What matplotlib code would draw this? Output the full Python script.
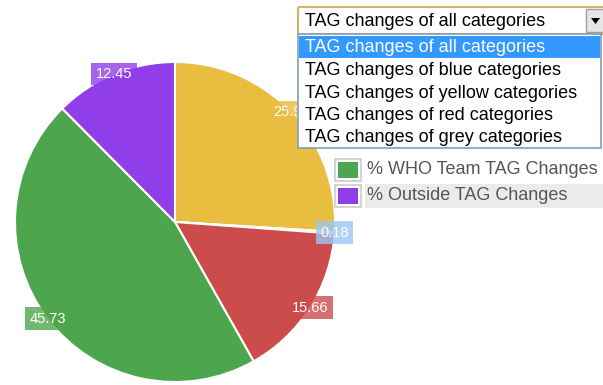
import matplotlib
matplotlib.use("Agg")
import matplotlib.pyplot as plt
from matplotlib.patches import Rectangle, FancyBboxPatch, Polygon
import numpy as np

plt.rcParams['font.family'] = ['Liberation Sans', 'DejaVu Sans']

# Slice values (percent), clockwise from 12 o'clock
values = [25.98, 0.18, 15.66, 45.73, 12.45]
value_labels = ["25.98", "0.18", "15.66", "45.73", "12.45"]
colors = ["#e9bd40", "#9cc6f3", "#cc4b4b", "#4da64d", "#913de9"]

# Visible legend entries
legend_names = ["% WHO Team TAG Changes", "% Outside TAG Changes"]
legend_colors = ["#4da64d", "#913de9"]

# Dropdown menu options
options = ["TAG changes of all categories",
           "TAG changes of blue categories",
           "TAG changes of yellow categories",
           "TAG changes of red categories",
           "TAG changes of grey categories"]

W, H = 603, 385
fig = plt.figure(figsize=(W / 100, H / 100), dpi=100)
ax = fig.add_axes([0, 0, 1, 1])
ax.set_xlim(0, W)
ax.set_ylim(0, H)
ax.set_aspect('equal')
ax.axis('off')


def Y(y):
    return H - y


cx, cy, R = 175, 222, 160
wedges, _ = ax.pie(values, colors=colors, startangle=90, counterclock=False,
                   center=(cx, Y(cy)), radius=R, frame=True,
                   wedgeprops=dict(edgecolor='white', linewidth=1.5))
ax.set_xlim(0, W)
ax.set_ylim(0, H)
ax.axis('off')

# value labels on the rim of each slice
for w, lab, col in zip(wedges, value_labels, colors):
    mid = np.deg2rad((w.theta1 + w.theta2) / 2)
    x = cx + R * np.cos(mid)
    y = Y(cy) + R * np.sin(mid)
    ax.text(x, y, lab, ha='center', va='center', color='white', fontsize=10.5,
            zorder=5,
            bbox=dict(boxstyle='square,pad=0.3', fc=col, ec='none', alpha=0.8))

# legend
leg_y = [170, 196]
ax.add_patch(Rectangle((365, Y(208)), 240, 24, fc='#ebebeb', ec='none', zorder=3))
for ly, name, col in zip(leg_y, legend_names, legend_colors):
    ax.add_patch(Rectangle((335, Y(ly + 11)), 26, 22, fc='white', ec='#cccccc',
                           lw=1.2, zorder=4))
    ax.add_patch(Rectangle((338, Y(ly + 8)), 20, 16, fc=col, ec='none', zorder=4))
    ax.text(367, Y(ly), name, ha='left', va='center', fontsize=13,
            color='#555555', zorder=4)

# closed select box
ax.add_patch(FancyBboxPatch((298, Y(34)), 310, 27,
                            boxstyle='round,pad=0,rounding_size=2',
                            fc='white', ec='#d6b06a', lw=1.5, zorder=10))
ax.text(305, Y(21), options[0], ha='left', va='center', fontsize=13,
        color='black', zorder=11)
ax.add_patch(Rectangle((586, Y(32)), 20, 23, fc='#e6e6e6', ec='#a0a0a0',
                       lw=1, zorder=11))
ax.add_patch(Polygon([(591, Y(18)), (600, Y(18)), (595.5, Y(24))],
                     closed=True, fc='black', ec='none', zorder=12))

# open option list
ax.add_patch(Rectangle((298, Y(148)), 303, 114, fc='white', ec='#7f9db9',
                       lw=1.2, zorder=10))
ax.add_patch(Rectangle((299, Y(58)), 301, 22, fc='#3399ff', ec='none', zorder=11))
opt_y = [47, 70.5, 93, 116, 138]
for i, (oy, opt) in enumerate(zip(opt_y, options)):
    ax.text(305, Y(oy), opt, ha='left', va='center', fontsize=13,
            color='white' if i == 0 else 'black', zorder=12)

fig.savefig('out.png', dpi=100)
